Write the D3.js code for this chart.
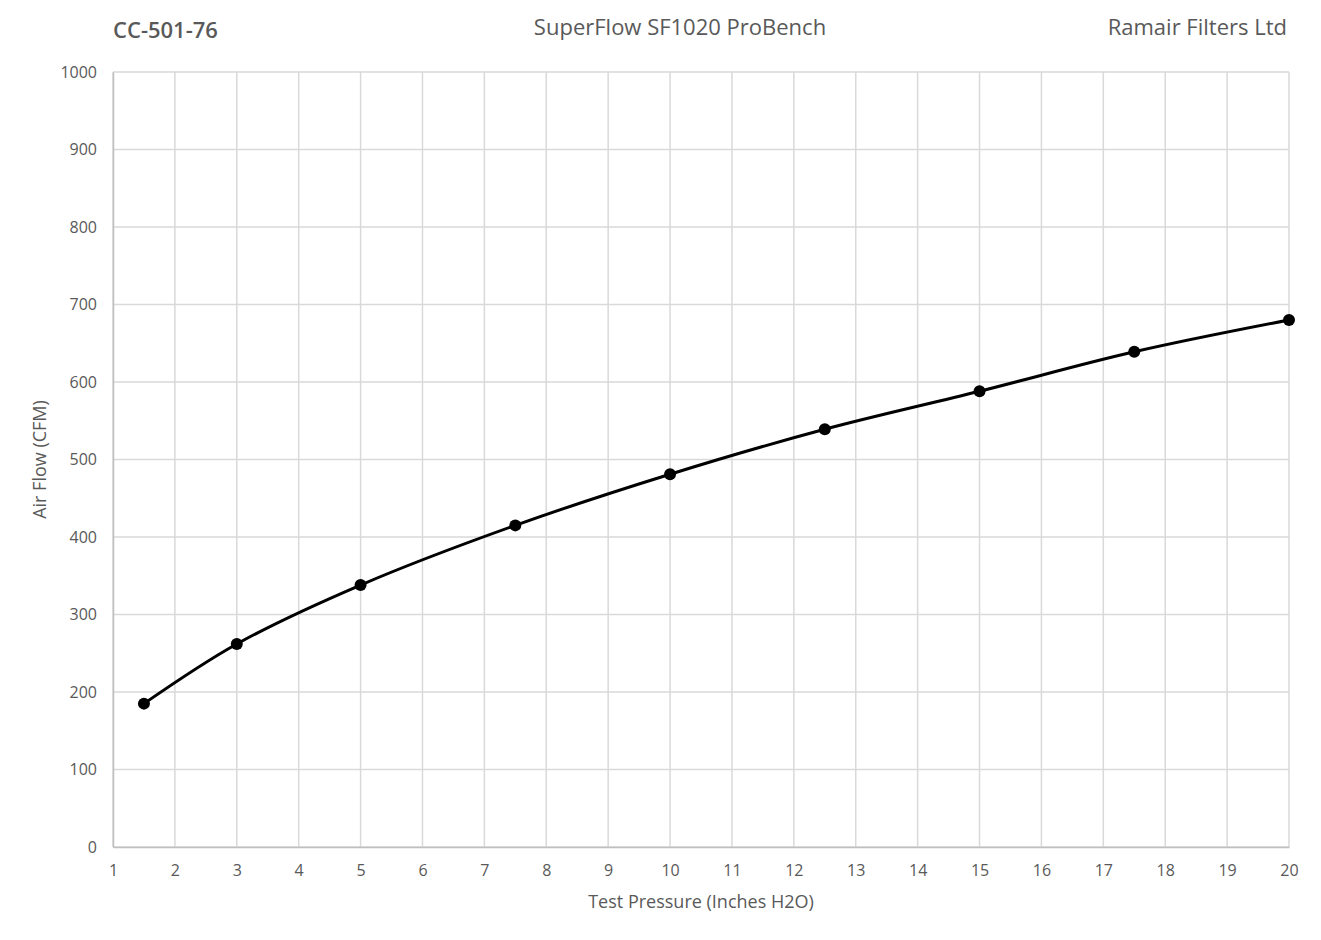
<!DOCTYPE html>
<html>
<head>
<meta charset="utf-8">
<script src="https://cdn.jsdelivr.net/npm/d3@7"></script>
<style>
  body { margin: 0; background: #fff; }
  text { font-family: "Open Sans", "Noto Sans", sans-serif; fill: #595959; }
</style>
</head>
<body>
<svg id="chart" width="1321" height="940"></svg>
<script>
// test points read from the bench sheet
let pressures = [1.5, 3, 5, 7.5, 10, 12.5, 15, 17.5, 20]
let airFlow = [185, 262, 338, 415, 481, 539, 588, 639, 680]
let xTicks = d3.range(1, 21)
let yTicks = d3.range(0, 1001, 100)

let svg = d3.select('#chart')
let margin = {top: 72, right: 32, bottom: 93, left: 113}
let width = +svg.attr('width') - margin.left - margin.right
let height = +svg.attr('height') - margin.top - margin.bottom

let x = d3.scaleLinear().domain([1, 20]).range([0, width])
let y = d3.scaleLinear().domain([0, 1000]).range([height, 0])

let g = svg.append('g')
    .attr('transform', 'translate(' + margin.left + ',' + margin.top + ')')

// gridlines
g.append('g').selectAll('line.vgrid').data(xTicks).enter().append('line')
    .attr('x1', d => x(d)).attr('x2', d => x(d))
    .attr('y1', 0).attr('y2', height)
    .attr('stroke', '#d9d9d9').attr('stroke-width', 1.5)
g.append('g').selectAll('line.hgrid').data(yTicks).enter().append('line')
    .attr('x1', 0).attr('x2', width)
    .attr('y1', d => y(d)).attr('y2', d => y(d))
    .attr('stroke', '#d9d9d9').attr('stroke-width', 1.5)

// axes
let xAxis = g.append('g')
    .attr('transform', 'translate(0,' + height + ')')
    .call(d3.axisBottom(x).tickValues(xTicks).tickSize(0).tickPadding(18))
let yAxis = g.append('g')
    .call(d3.axisLeft(y).tickValues(yTicks).tickFormat(d3.format('d')).tickSize(0).tickPadding(16))
xAxis.select('.domain').attr('stroke', '#bfbfbf').attr('stroke-width', 1.5)
yAxis.select('.domain').attr('stroke', '#bfbfbf').attr('stroke-width', 1.5)
xAxis.attr('font-size', 16)
yAxis.attr('font-size', 16)
svg.selectAll('.tick text').attr('fill', '#595959')

// series
let points = pressures.map((p, i) => [p, airFlow[i]])
let line = d3.line()
    .x(d => x(d[0]))
    .y(d => y(d[1]))
    .curve(d3.curveCatmullRom.alpha(0.5))

g.append('path')
    .datum(points)
    .attr('fill', 'none')
    .attr('stroke', '#000')
    .attr('stroke-width', 3)
    .attr('d', line)

g.selectAll('circle.pt').data(points).enter().append('circle')
    .attr('class', 'pt')
    .attr('cx', d => x(d[0]))
    .attr('cy', d => y(d[1]))
    .attr('r', 6)
    .attr('fill', '#000')

// titles
svg.append('text')
    .attr('x', 113).attr('y', 38)
    .style('font-size', '22px').style('font-weight', '600')
    .text('CC-501-76')
svg.append('text')
    .attr('x', 680).attr('y', 35).attr('text-anchor', 'middle')
    .style('font-size', '22px')
    .text('SuperFlow SF1020 ProBench')
svg.append('text')
    .attr('x', 1287).attr('y', 35).attr('text-anchor', 'end')
    .style('font-size', '22px')
    .text('Ramair Filters Ltd')

svg.append('text')
    .attr('x', margin.left + width / 2).attr('y', 908).attr('text-anchor', 'middle')
    .style('font-size', '18px')
    .text('Test Pressure (Inches H2O)')
svg.append('text')
    .attr('transform', 'translate(46,' + (margin.top + height / 2) + ') rotate(-90)')
    .attr('text-anchor', 'middle')
    .style('font-size', '18px')
    .text('Air Flow (CFM)')
</script>
</body>
</html>
